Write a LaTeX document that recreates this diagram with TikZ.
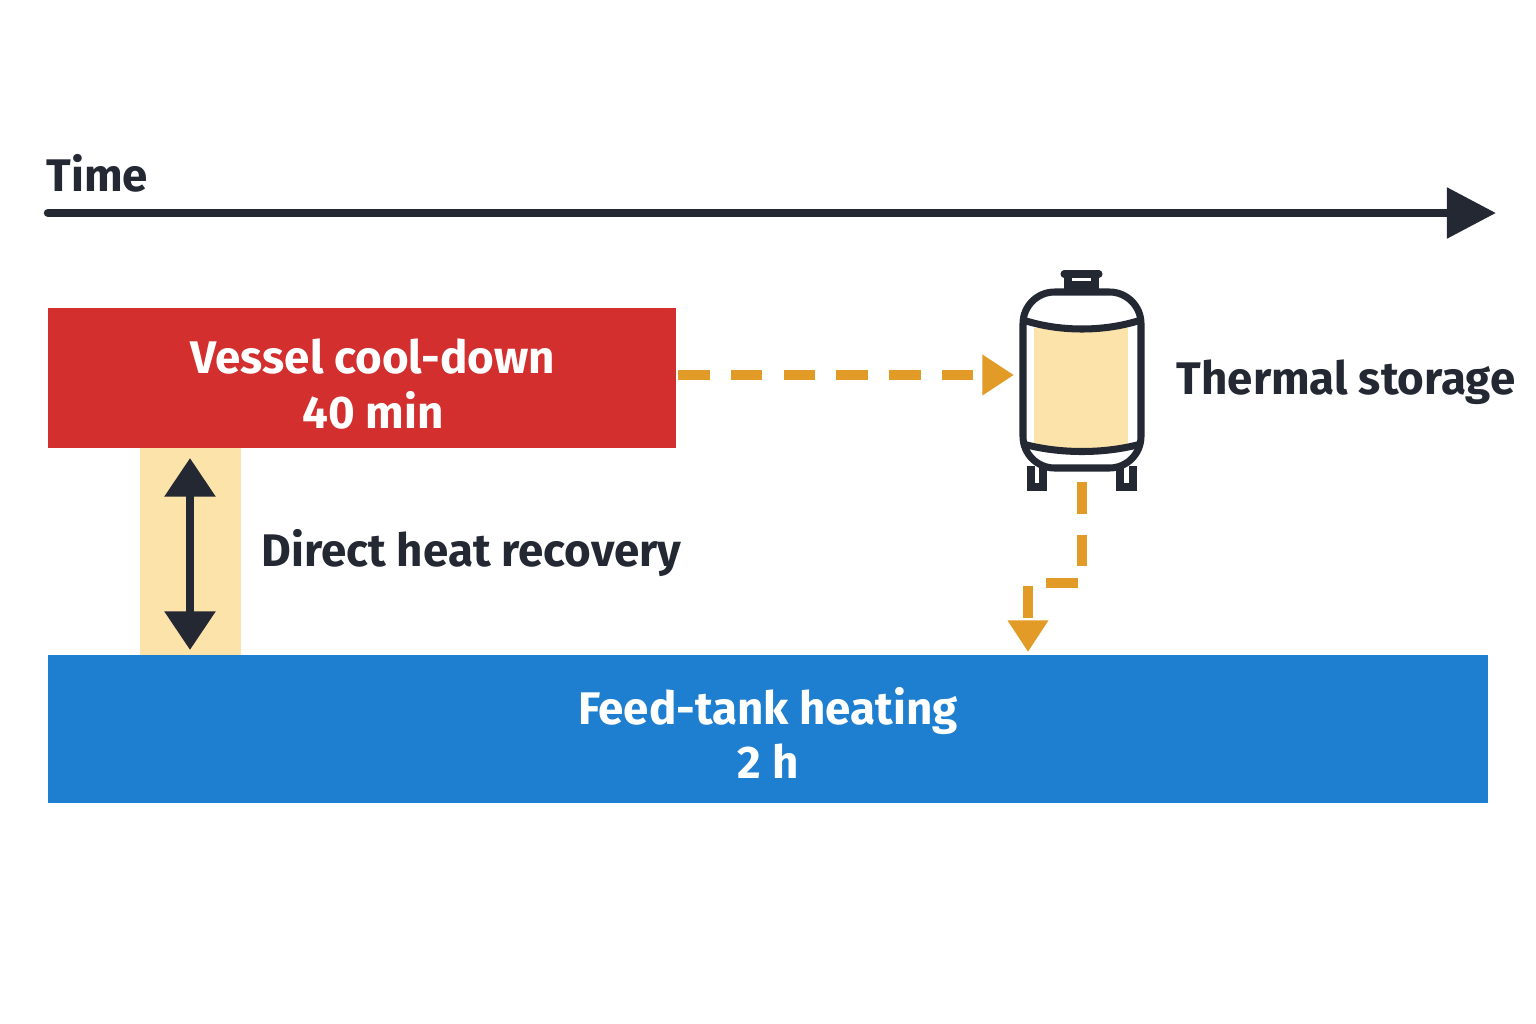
\documentclass[tikz,border=0pt]{standalone}
\usepackage{fontspec}
\setmainfont{Fira Sans}
\usetikzlibrary{arrows.meta, positioning}
\definecolor{ink}{HTML}{232833}
\definecolor{coolred}{HTML}{D32F2F}
\definecolor{heatblue}{HTML}{1E7FD0}
\definecolor{flow}{HTML}{E39B27}
\definecolor{sand}{HTML}{FCE3AA}
\tikzset{
  bar/.style={inner sep=0pt, text=white, font=\fontsize{13}{15.5}\selectfont\bfseries, align=center},
  lbl/.style={inner sep=0pt, text=ink, font=\fontsize{13}{15.5}\selectfont\bfseries, anchor=west},
  flowline/.style={flow, line width=2.6pt, dash pattern=on 9pt off 6pt, -{Triangle[length=9pt,width=11pt]}},
  tankline/.style={ink, line width=2pt}
}
\begin{document}
\begin{tikzpicture}[x=0.01cm, y=-0.01cm]
  \useasboundingbox (0,0) rectangle (1536,1024);
  % Time axis
  \node[lbl] (time) at (46,173) {Time};
  \coordinate (t0) at (48,213);
  \coordinate (t1) at (1496,213);
  \draw[ink, line width=2.4pt, line cap=round, -{Triangle[length=14pt,width=14pt]}] (t0) -- (t1);

  % Bars
  \fill[sand] (140,448) rectangle (241,655);
  \fill[coolred] (48,308) rectangle (676,448);
  \node[bar] (cool) at (373,384) {Vessel cool-down\\40 min};
  \fill[heatblue] (48,655) rectangle (1488,803);
  \node[bar] (feed) at (768,733) {Feed-tank heating\\2 h};

  % Direct recovery
  \coordinate (d0) at (190,458);
  \coordinate (d1) at (190,650);
  \draw[ink, line width=2.4pt, {Triangle[length=11pt,width=14pt]}-{Triangle[length=11pt,width=14pt]}] (d0) -- (d1);
  \node[lbl] (direct) at (261,553) {Direct heat recovery};

  % Thermal storage tank
  \fill[sand] (1034,328) rectangle (1128,450);
  \draw[tankline] (1068,285) rectangle (1095,274);
  \draw[tankline, line cap=round] (1064,274) -- (1099,274);
  \draw[tankline, rounded corners=9pt] (1023,292) rectangle (1141,468);
  \draw[tankline] (1023,320) .. controls (1060,332) and (1104,332) .. (1141,320);
  \draw[tankline] (1023,444) .. controls (1060,454) and (1104,454) .. (1141,444);
  \draw[tankline] (1031,466) -- (1031,487) -- (1043,487) -- (1043,468);
  \draw[tankline] (1120,468) -- (1120,487) -- (1133,487) -- (1133,466);
  \node[inner sep=0pt] (tank) at (1082,380) {};
  \node[lbl] (storage) at (1176,382) {Thermal storage};

  % Flows
  \coordinate (f0) at (678,375);
  \coordinate (f1) at (1014,375);
  \draw[flowline] (f0) -- (f1);
  \coordinate (g0) at (1082,482);
  \coordinate (g1) at (1028,652);
  \draw[flowline] (g0) -- (1082,583) -- (1028,583) -- (g1);
\end{tikzpicture}
\end{document}
